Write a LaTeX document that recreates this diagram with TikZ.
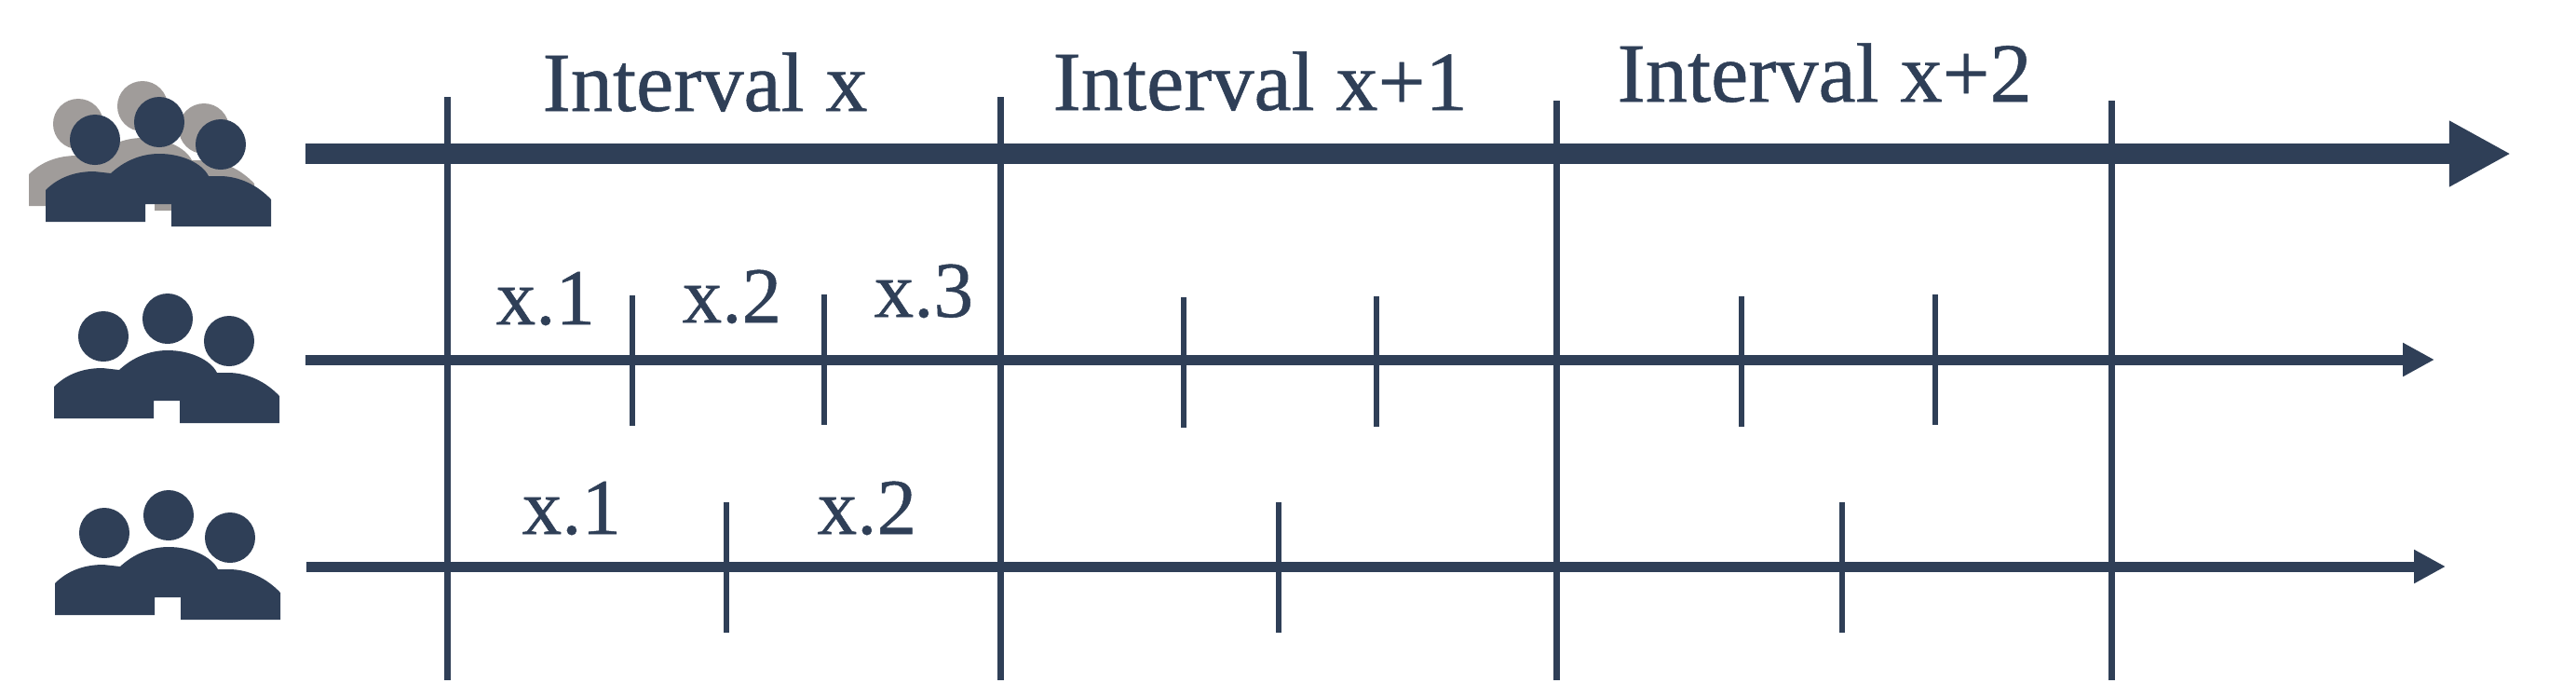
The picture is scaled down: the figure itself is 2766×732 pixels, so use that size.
\documentclass[tikz,border=0pt]{standalone}
\usepackage{fontspec}
\newfontfamily\labelfont[FakeBold=0.6]{Liberation Serif}
\usetikzlibrary{arrows.meta}

\definecolor{navy}{HTML}{2F3F57}
\definecolor{stone}{HTML}{A09C9A}

\tikzset{
  mainaxis/.style={navy, line width=0.22cm, -{Triangle[length=0.66cm, width=0.66cm]}},
  subaxis/.style={navy, line width=0.11cm, -{Triangle[length=0.34cm, width=0.34cm]}},
  boundary/.style={navy, line width=0.07cm},
  subtick/.style={navy, line width=0.065cm},
  label/.style={navy, inner sep=0pt, anchor=base west, font=\labelfont\fontsize{25.7}{30}\selectfont},
  sublabel/.style={label, font=\labelfont\fontsize{24.2}{30}\selectfont}
}

% one group of three people, centred on the head in the middle
\newcommand{\peoplegroup}[3]{
  \begin{scope}[shift={(#1,#2)}]
    \fill[#3] (-69,19) circle (0.27cm);
    \fill[#3] (0,0) circle (0.27cm);
    \fill[#3] (66,24) circle (0.27cm);
    \fill[#3] (-122,107) -- (-122,73) .. controls (-108,59) and (-90,53) .. (-70,53)
      -- (-52,55) .. controls (-38,42) and (-20,34) .. (0,34)
      .. controls (24,34) and (46,44) .. (53,58) -- (65,58)
      .. controls (86,58) and (106,68) .. (120,83)
      -- (120,112) -- (13,112) -- (13,88) -- (-15,88) -- (-15,107) -- cycle;
  \end{scope}
}

\begin{document}
\begin{tikzpicture}[x=0.01cm, y=-0.01cm]

  \useasboundingbox (0,0) rectangle (2766,732);

  \peoplegroup{153}{114}{stone}
  \peoplegroup{171}{131}{navy}
  \peoplegroup{180}{342}{navy}
  \peoplegroup{181}{553}{navy}

  \coordinate (start1) at (328,165);
  \coordinate (end1) at (2696,165);
  \coordinate (start2) at (328,386);
  \coordinate (end2) at (2614,386);
  \coordinate (start3) at (329,608);
  \coordinate (end3) at (2626,608);

  \draw[mainaxis] (start1) -- (end1);
  \draw[subaxis] (start2) -- (end2);
  \draw[subaxis] (start3) -- (end3);

  % interval boundaries
  \foreach \xpos/\ytop in {480/104, 1074/104, 1671/108, 2267/108} {
    \draw[boundary] (\xpos,\ytop) -- (\xpos,730);
  }

  % sub intervals
  \foreach \xpos/\ytop in {679/317, 885/316, 1271/319, 1478/318, 1870/318, 2078/316, 780/539, 1373/539, 1978/539} {
    \draw[subtick] (\xpos,\ytop) -- ++(0,140);
  }

  \node[label] (interval0) at (582,119) {Interval x};
  \node[label] (interval1) at (1130,118) {Interval x+1};
  \node[label] (interval2) at (1736,109) {Interval x+2};

  \node[sublabel] (first1) at (532,348) {x.1};
  \node[sublabel] (first2) at (732,346) {x.2};
  \node[sublabel] (first3) at (938,340) {x.3};

  \node[sublabel] (second1) at (560,573) {x.1};
  \node[sublabel] (second2) at (877,573) {x.2};

\end{tikzpicture}
\end{document}
